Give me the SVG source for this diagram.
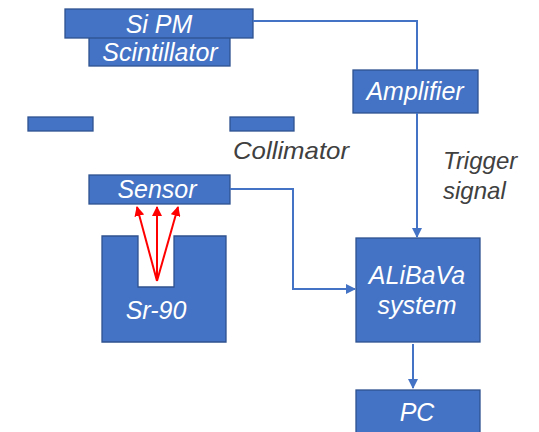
<svg xmlns="http://www.w3.org/2000/svg" width="539" height="432" viewBox="0 0 539 432">
<style>
.box{fill:#4472C4;stroke:#2F528F;stroke-width:1.3}
.lbl{font-family:"Liberation Sans",Arial,sans-serif;font-style:italic;font-size:25px;fill:#ffffff;text-anchor:middle}
.note{font-family:"Liberation Sans",Arial,sans-serif;font-style:italic;font-size:24px;fill:#404040}
.conn{fill:none;stroke:#4472C4;stroke-width:2}
.ray{fill:none;stroke:#FF0000;stroke-width:2}
</style>
<defs>
<marker id="ah" viewBox="0 0 10 10" refX="9" refY="5" markerWidth="5" markerHeight="5" orient="auto" markerUnits="strokeWidth"><path d="M0,0 L10,5 L0,10 z" fill="#4472C4"/></marker>
<marker id="ahr" viewBox="0 0 10 10" refX="9" refY="5" markerWidth="5" markerHeight="5" orient="auto" markerUnits="strokeWidth"><path d="M0,0 L10,5 L0,10 z" fill="#FF0000"/></marker>
</defs>
<rect width="539" height="432" fill="#ffffff"/>
<g id="scintillator"><rect class="box" x="89" y="37" width="141" height="29"/><text class="lbl" x="160" y="61">Scintillator</text></g>
<g id="sipm"><rect class="box" x="65" y="9" width="188" height="29"/><text class="lbl" x="159" y="33">Si PM</text></g>
<g id="collimator"><rect class="box" x="28" y="117" width="65" height="14"/><rect class="box" x="230" y="117" width="64" height="14"/><text class="note" x="233" y="159" textLength="116" lengthAdjust="spacingAndGlyphs">Collimator</text></g>
<g id="sensor"><rect class="box" x="89" y="175" width="141" height="29"/><text class="lbl" x="157" y="198">Sensor</text></g>
<g id="source"><path class="box" d="M102,236 H138 V287 H174 V236 H226 V342 H102 Z"/><text class="lbl" x="156" y="319">Sr-90</text>
<g id="rays"><line class="ray" x1="157" y1="281" x2="137" y2="207" marker-end="url(#ahr)"/><line class="ray" x1="157" y1="281" x2="157" y2="207" marker-end="url(#ahr)"/><line class="ray" x1="157" y1="281" x2="178" y2="207" marker-end="url(#ahr)"/></g></g>
<g id="amplifier"><rect class="box" x="353" y="70" width="125" height="43"/><text class="lbl" x="415" y="100">Amplifier</text></g>
<g id="trigger"><text class="note" x="443" y="169">Trigger</text><text class="note" x="443" y="199">signal</text></g>
<g id="alibava"><rect class="box" x="356" y="238" width="124" height="104"/><text class="lbl" x="417" y="284">ALiBaVa</text><text class="lbl" x="417" y="314">system</text></g>
<g id="pc"><rect class="box" x="356" y="390" width="124" height="50"/><text class="lbl" x="417" y="421">PC</text></g>
<g id="connectors">
<path class="conn" d="M253,21 H417 V70"/>
<path class="conn" d="M417,113 V237" marker-end="url(#ah)"/>
<path class="conn" d="M230,189 H293 V289 H355" marker-end="url(#ah)"/>
<path class="conn" d="M413,344 V388" marker-end="url(#ah)"/>
</g>
</svg>
